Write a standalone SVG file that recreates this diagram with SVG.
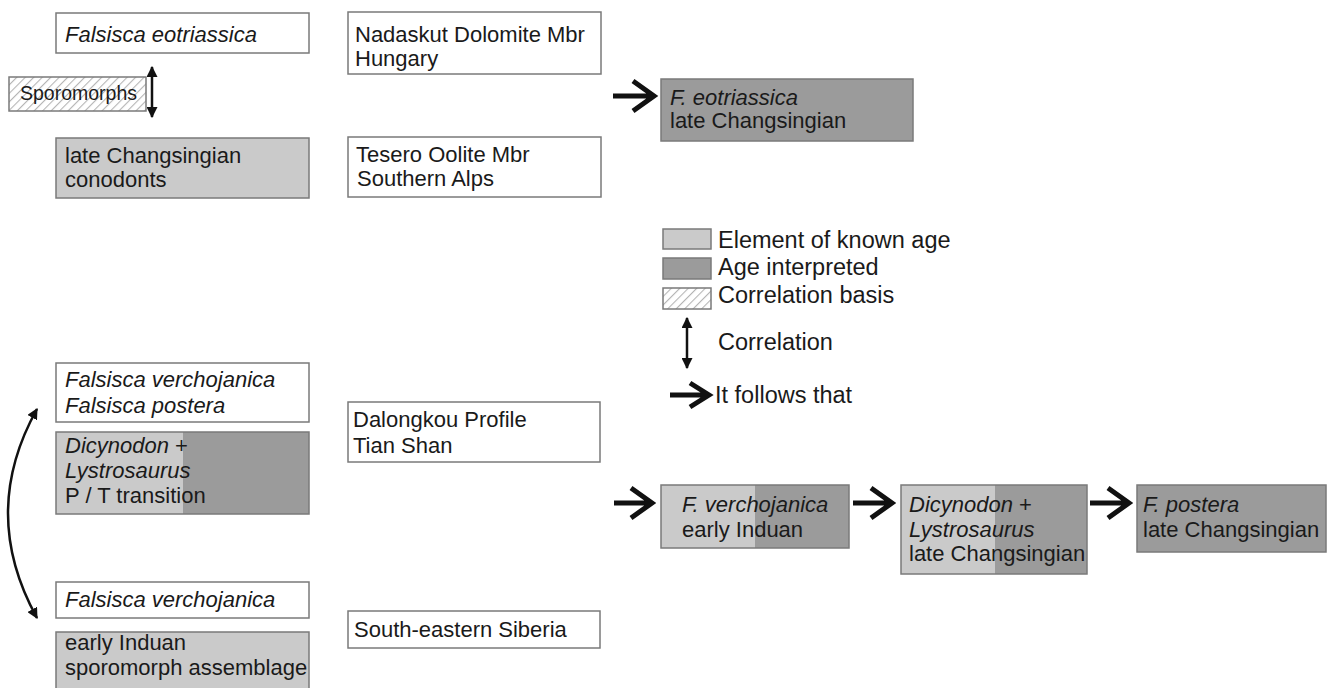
<svg xmlns="http://www.w3.org/2000/svg" width="1334" height="688" viewBox="0 0 1334 688">
<style>
text{font-family:"Liberation Sans",Arial,sans-serif;font-size:22px;fill:#1a1a1a}
.i{font-style:italic}
.lg{font-size:23.5px}
.sp{font-size:19.5px}
.box{stroke:#7a7a7a;stroke-width:1.5}
.w{fill:#fff}
.lt{fill:#cacaca}
.dk{fill:#9b9b9b}
.thin{fill:none;stroke:#111;stroke-width:2.5;marker-start:url(#tri);marker-end:url(#tri)}
.thick{fill:none;stroke:#111;stroke-width:5;stroke-linejoin:miter;stroke-miterlimit:10}
</style>
<defs>
<pattern id="hatch" width="6" height="6" patternUnits="userSpaceOnUse" patternTransform="rotate(-45)">
<rect width="6" height="6" fill="#fff"/>
<line x1="0" y1="0.5" x2="6" y2="0.5" stroke="#b5b5b5" stroke-width="1.2"/>
</pattern>
<marker id="tri" viewBox="0 0 10 10" refX="9" refY="5" markerWidth="11" markerHeight="11" markerUnits="userSpaceOnUse" orient="auto-start-reverse">
<path d="M0,0 L10,5 L0,10 Z" fill="#111"/>
</marker>
</defs>
<rect width="1334" height="688" fill="#fff"/>

<!-- left column -->
<g id="n-feotriassica"><rect class="box w" x="56" y="13" width="253" height="40"/><text x="65" y="42" class="i">Falsisca eotriassica</text></g>
<g id="n-sporomorphs"><rect class="box" x="9" y="77" width="137" height="34" fill="url(#hatch)"/><text x="20" y="100" class="sp">Sporomorphs</text></g>
<g id="n-conodonts"><rect class="box lt" x="56" y="138" width="253" height="60"/><text x="65" y="163">late Changsingian</text><text x="65" y="187">conodonts</text></g>
<g id="n-fverch-postera"><rect class="box w" x="56" y="363" width="253" height="59"/><text x="65" y="387" class="i">Falsisca verchojanica</text><text x="65" y="413" class="i">Falsisca postera</text></g>
<g id="n-dicynodon-left"><rect class="lt" x="56" y="432" width="127" height="82"/><rect class="dk" x="183" y="432" width="126" height="82"/><rect class="box" fill="none" x="56" y="432" width="253" height="82"/><text x="65" y="453"><tspan class="i">Dicynodon</tspan> +</text><text x="65" y="478" class="i">Lystrosaurus</text><text x="65" y="503">P / T transition</text></g>
<g id="n-fverch"><rect class="box w" x="56" y="582" width="253" height="36"/><text x="65" y="607" class="i">Falsisca verchojanica</text></g>
<g id="n-induan"><rect class="box lt" x="56" y="632" width="253" height="60"/><text x="65" y="650">early Induan</text><text x="65" y="675">sporomorph assemblage</text></g>

<!-- middle column -->
<g id="n-nadaskut"><rect class="box w" x="348" y="12" width="253" height="62"/><text x="355" y="42">Nadaskut Dolomite Mbr</text><text x="355" y="66">Hungary</text></g>
<g id="n-tesero"><rect class="box w" x="348" y="137" width="253" height="60"/><text x="356" y="162">Tesero Oolite Mbr</text><text x="357" y="186">Southern Alps</text></g>
<g id="n-dalongkou"><rect class="box w" x="348" y="402" width="252" height="60"/><text x="353" y="427">Dalongkou Profile</text><text x="353" y="453">Tian Shan</text></g>
<g id="n-siberia"><rect class="box w" x="348" y="611" width="252" height="37"/><text x="354" y="637">South-eastern Siberia</text></g>

<!-- right results -->
<g id="n-res-eotriassica"><rect class="box dk" x="661" y="79" width="252" height="62"/><text x="670" y="105" class="i">F. eotriassica</text><text x="670" y="128">late Changsingian</text></g>
<g id="n-res-verch"><rect class="lt" x="661" y="485" width="94" height="63"/><rect class="dk" x="755" y="485" width="94" height="63"/><rect class="box" fill="none" x="661" y="485" width="188" height="63"/><text x="682" y="512" class="i">F. verchojanica</text><text x="682" y="537">early Induan</text></g>
<g id="n-res-dicynodon"><rect class="lt" x="901" y="485" width="94" height="89"/><rect class="dk" x="995" y="485" width="92" height="89"/><rect class="box" fill="none" x="901" y="485" width="186" height="89"/><text x="909" y="512"><tspan class="i">Dicynodon</tspan> +</text><text x="909" y="537" class="i">Lystrosaurus</text><text x="909" y="561">late Changsingian</text></g>
<g id="n-res-postera"><rect class="box dk" x="1137" y="485" width="189" height="67"/><text x="1143" y="512" class="i">F. postera</text><text x="1143" y="537">late Changsingian</text></g>

<!-- legend -->
<g id="legend">
<rect class="box lt" x="663" y="229" width="48" height="20"/><text x="718" y="248" class="lg">Element of known age</text>
<rect class="box dk" x="663" y="258" width="48" height="21"/><text x="718" y="275" class="lg">Age interpreted</text>
<rect class="box" x="663" y="288" width="48" height="21" fill="url(#hatch)"/><text x="718" y="303" class="lg">Correlation basis</text>
<path class="thin" d="M687,318 L687,368"/><text x="718" y="350" class="lg">Correlation</text>
<path class="thick" d="M670,395 L709,395 M690,383 L709,395 L690,407"/><text x="715" y="403" class="lg">It follows that</text>
</g>

<!-- connectors -->
<g id="connectors">
<path class="thin" d="M152,67 L152,117"/>
<path class="thin" d="M37,409 Q-21,513 37,618"/>
<path class="thick" d="M613,96 L654,96 M633,81 L654,96 L633,111"/>
<path class="thick" d="M614,503 L652,503 M631,488 L652,503 L631,518"/>
<path class="thick" d="M853,503 L892,503 M871,488 L892,503 L871,518"/>
<path class="thick" d="M1090,503 L1129,503 M1108,488 L1129,503 L1108,518"/>
</g>
</svg>
